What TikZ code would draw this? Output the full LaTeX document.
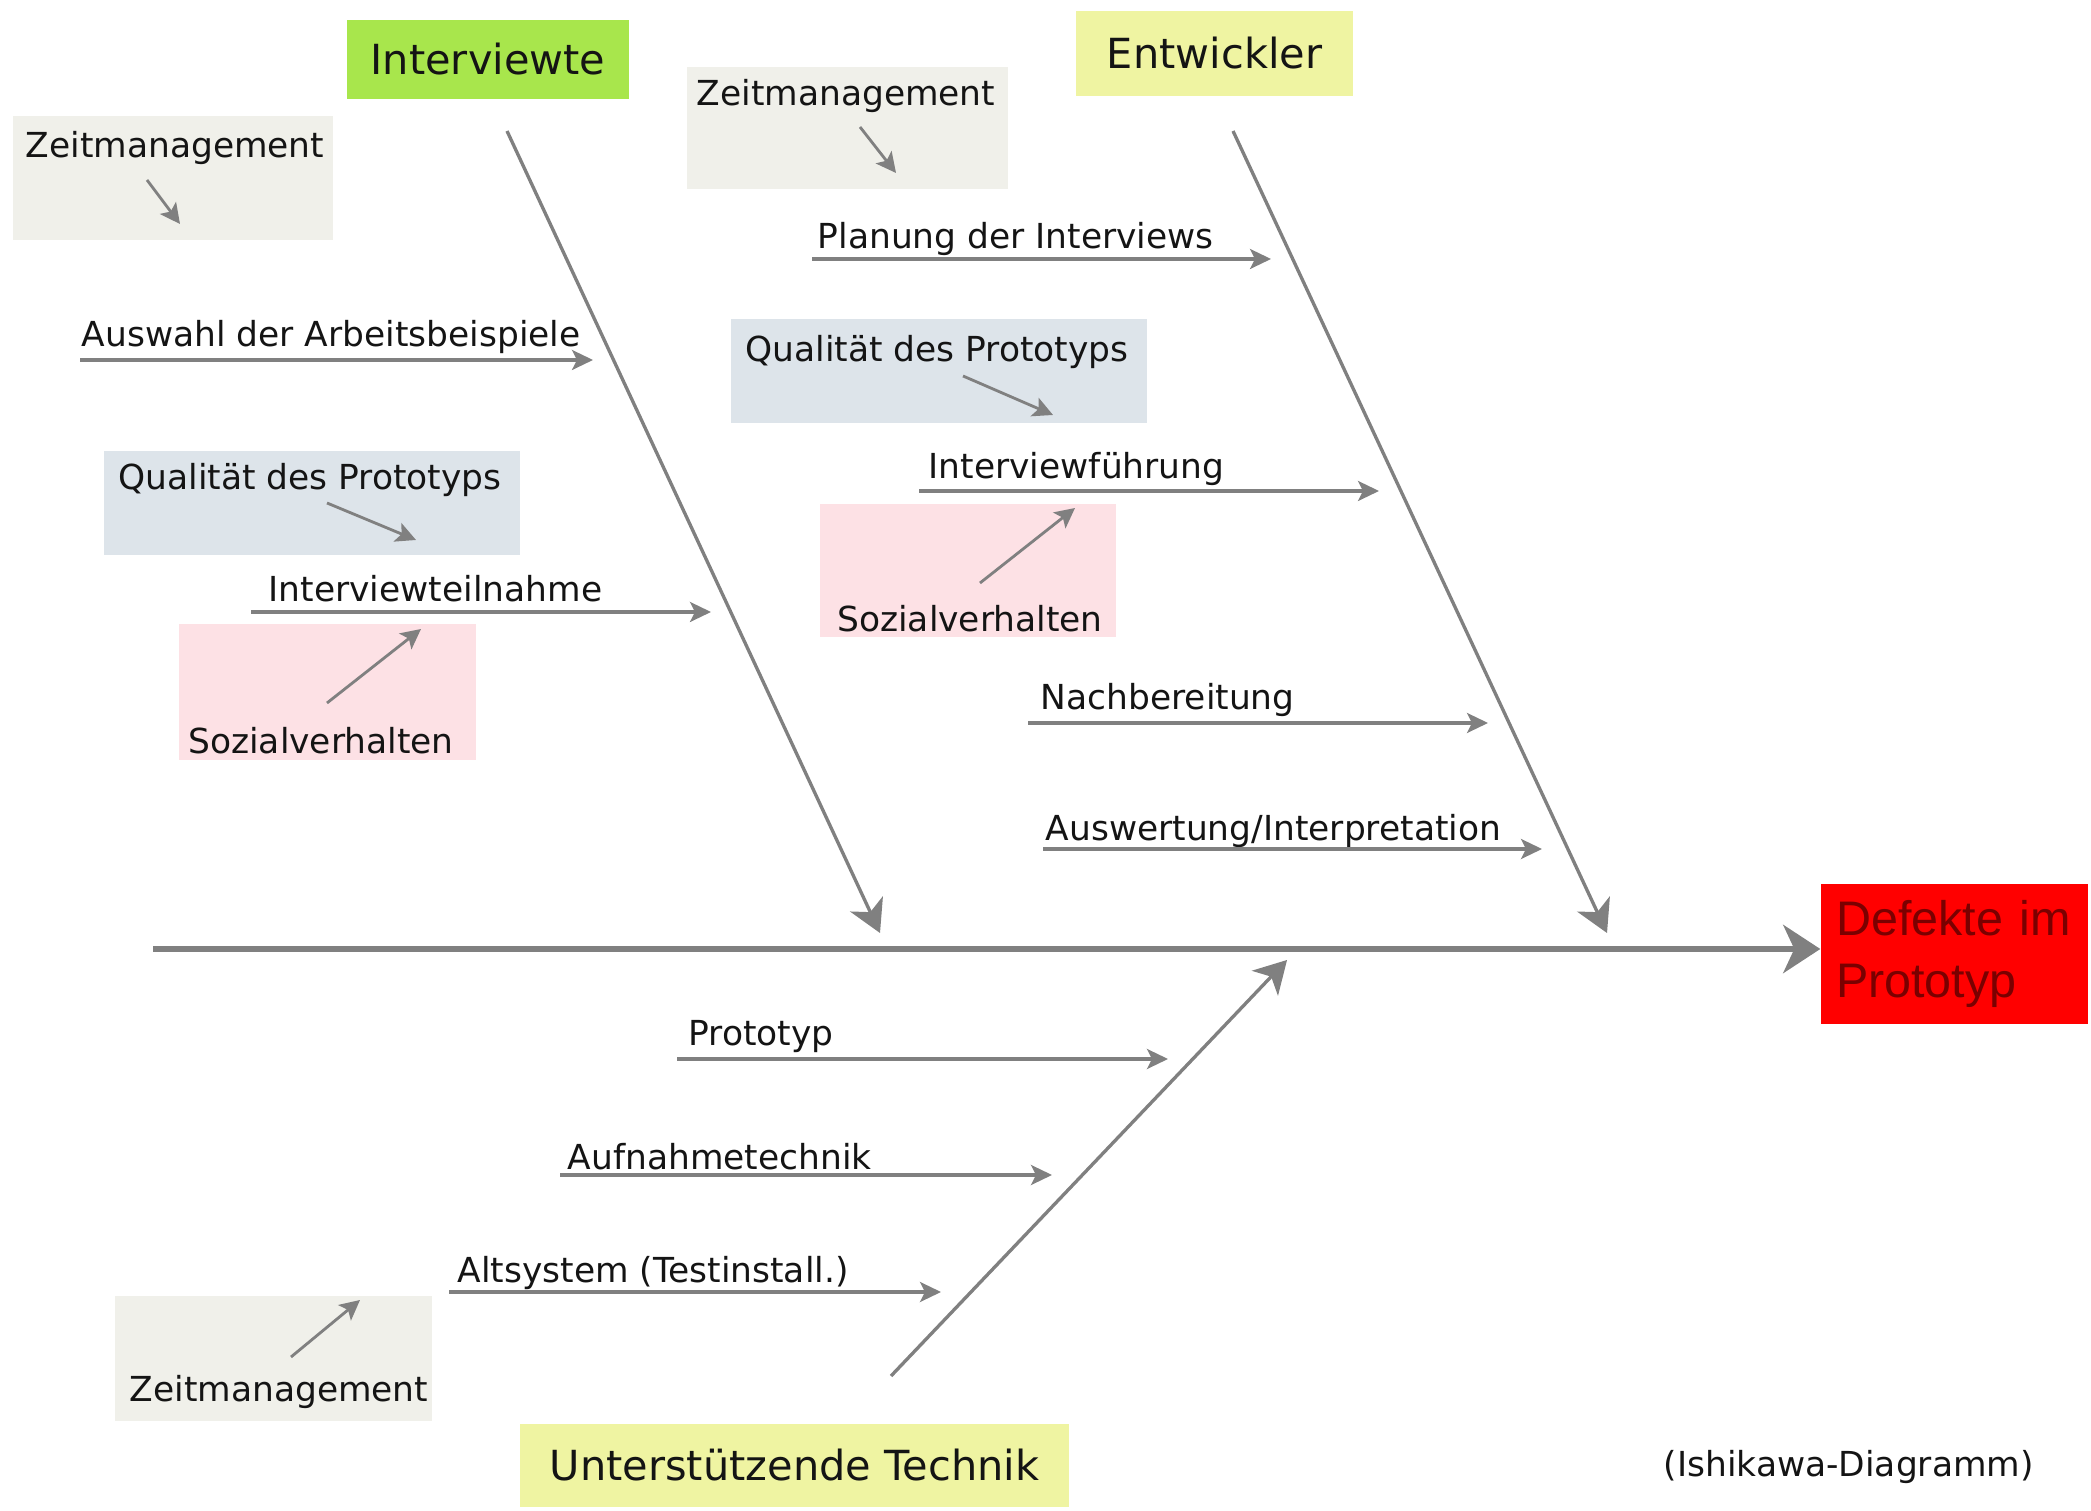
\documentclass[tikz,border=0pt]{standalone}
\usepackage{fontspec}
\setmainfont{DejaVu Sans}
\setsansfont{DejaVu Sans}
\newfontfamily\effectfont{Liberation Sans}
\usetikzlibrary{arrows.meta, positioning}
\definecolor{bonegray}{HTML}{808080}
\definecolor{txt}{HTML}{141414}
\definecolor{cgreen}{HTML}{A8E64C}
\definecolor{cyellow}{HTML}{EFF4A2}
\definecolor{czeit}{HTML}{F0F0EA}
\definecolor{cquali}{HTML}{DDE4EA}
\definecolor{csozial}{HTML}{FDE1E5}
\definecolor{cred}{HTML}{FF0000}
\definecolor{cdarkred}{HTML}{7A0000}

\begin{document}
\begin{tikzpicture}[
    every node/.style={font=\fontsize{9.8}{11.5}\selectfont, text=txt, inner sep=0pt},
    spine/.style={-{Stealth[length=3.7mm, width=4.8mm, inset=1.1mm]}, line width=1.9pt, color=bonegray},
    rib/.style={-{Stealth[length=3.2mm, width=3.6mm, inset=0.9mm]}, line width=0.95pt, color=bonegray},
    cause/.style={-{Stealth[length=2.1mm, width=2.0mm, inset=0.5mm]}, line width=0.9pt, color=bonegray},
    hint/.style={-{Stealth[length=2.0mm, width=2.0mm, inset=0.45mm]}, line width=0.8pt, color=bonegray},
    head/.style={rectangle, font=\fontsize{11.8}{14}\selectfont},
    patch/.style={rectangle},
]

\useasboundingbox (0,0) rectangle (20.91,15.10);

% ============================================================ the effect
\node[rectangle, fill=cred, minimum width=2.67cm, minimum height=1.40cm,
    inner xsep=0.15cm, text width=2.37cm, align=left, text=cdarkred,
    font=\effectfont\fontsize{13.8}{17.9}\selectfont] (defekt) at (19.545, 5.56)
    {Defekte im\\Prototyp};

\coordinate (tail) at (1.53, 5.61);
\draw[spine] (tail) -- (tail -| defekt.west);

% ============================================================ the headings
\node[head, fill=cgreen, minimum width=2.82cm, minimum height=0.79cm] (interviewte) at (4.88, 14.505) {Interviewte};
\node[head, fill=cyellow, minimum width=2.77cm, minimum height=0.85cm] (entwickler) at (12.145, 14.565) {Entwickler};
\node[head, fill=cyellow, minimum width=5.49cm, minimum height=0.83cm] (technik) at (7.945, 0.445) {Unterstützende Technik};

% ============================================================ the coloured patches
\node[patch, fill=czeit, minimum width=3.20cm, minimum height=1.24cm] (zeitA) at (1.73, 13.32) {};
\node[patch, fill=czeit, minimum width=3.21cm, minimum height=1.22cm] (zeitB) at (8.475, 13.82) {};
\node[patch, fill=czeit, minimum width=3.17cm, minimum height=1.25cm] (zeitC) at (2.735, 1.515) {};
\node[patch, fill=cquali, minimum width=4.16cm, minimum height=1.04cm] (qualiA) at (3.12, 10.07) {};
\node[patch, fill=cquali, minimum width=4.16cm, minimum height=1.04cm] (qualiB) at (9.39, 11.39) {};
\node[patch, fill=csozial, minimum width=2.97cm, minimum height=1.36cm] (sozialA) at (3.275, 8.18) {};
\node[patch, fill=csozial, minimum width=2.96cm, minimum height=1.33cm] (sozialB) at (9.68, 9.395) {};

\node (zeitAt) at (1.75, 13.62) {Zeitmanagement};
\node (zeitBt) at (8.46, 14.14) {Zeitmanagement};
\node (zeitCt) at (2.79, 1.18) {Zeitmanagement};
\node (qualiAt) at (3.10, 10.30) {Qualität des Prototyps};
\node (qualiBt) at (9.37, 11.58) {Qualität des Prototyps};
\node (sozialAt) at (3.21, 7.69) {Sozialverhalten};
\node (sozialBt) at (9.70, 8.91) {Sozialverhalten};

% little arrows inside the patches
\coordinate (zA1) at (1.47, 13.30); \coordinate (zA2) at (1.80, 12.86);
\coordinate (zB1) at (8.60, 13.83); \coordinate (zB2) at (8.96, 13.37);
\coordinate (zC1) at (2.91, 1.53);  \coordinate (zC2) at (3.60, 2.10);
\coordinate (qA1) at (3.27, 10.07); \coordinate (qA2) at (4.16, 9.70);
\coordinate (qB1) at (9.63, 11.34); \coordinate (qB2) at (10.53, 10.95);
\coordinate (sA1) at (3.27, 8.07);  \coordinate (sA2) at (4.21, 8.81);
\coordinate (sB1) at (9.80, 9.27);  \coordinate (sB2) at (10.75, 10.02);
\draw[hint] (zA1) -- (zA2);
\draw[hint] (zB1) -- (zB2);
\draw[hint] (zC1) -- (zC2);
\draw[hint] (qA1) -- (qA2);
\draw[hint] (qB1) -- (qB2);
\draw[hint] (sA1) -- (sA2);
\draw[hint] (sB1) -- (sB2);

% ============================================================ the three bones
\coordinate (ribA) at (5.07, 13.79);  \coordinate (ribAend) at (8.80, 5.77);
\coordinate (ribB) at (12.33, 13.79); \coordinate (ribBend) at (16.07, 5.77);
\coordinate (ribC) at (8.91, 1.34);   \coordinate (ribCend) at (12.87, 5.50);
\draw[rib] (ribA) -- (ribAend);
\draw[rib] (ribB) -- (ribBend);
\draw[rib] (ribC) -- (ribCend);

% ============================================================ causes, Interviewte
\node[anchor=west] (auswahl) at (0.81, 11.73) {Auswahl der Arbeitsbeispiele};
\coordinate (auswahlS) at (0.80, 11.50); \coordinate (auswahlE) at (5.93, 11.50);
\draw[cause] (auswahlS) -- (auswahlE);

\node[anchor=west] (teilnahme) at (2.68, 9.21) {Interviewteilnahme};
\coordinate (teilnahmeS) at (2.51, 8.98); \coordinate (teilnahmeE) at (7.11, 8.98);
\draw[cause] (teilnahmeS) -- (teilnahmeE);

% ============================================================ causes, Entwickler
\node[anchor=west] (planung) at (8.17, 12.71) {Planung der Interviews};
\coordinate (planungS) at (8.12, 12.51); \coordinate (planungE) at (12.71, 12.51);
\draw[cause] (planungS) -- (planungE);

\node[anchor=west] (fuehrung) at (9.28, 10.41) {Interviewführung};
\coordinate (fuehrungS) at (9.19, 10.19); \coordinate (fuehrungE) at (13.79, 10.19);
\draw[cause] (fuehrungS) -- (fuehrungE);

\node[anchor=west] (nachber) at (10.40, 8.10) {Nachbereitung};
\coordinate (nachberS) at (10.28, 7.87); \coordinate (nachberE) at (14.88, 7.87);
\draw[cause] (nachberS) -- (nachberE);

\node[anchor=west] (auswertung) at (10.45, 6.79) {Auswertung/Interpretation};
\coordinate (auswertungS) at (10.43, 6.61); \coordinate (auswertungE) at (15.42, 6.61);
\draw[cause] (auswertungS) -- (auswertungE);

% ============================================================ causes, Technik
\node[anchor=west] (prototyp) at (6.88, 4.73) {Prototyp};
\coordinate (prototypS) at (6.77, 4.51); \coordinate (prototypE) at (11.68, 4.51);
\draw[cause] (prototypS) -- (prototypE);

\node[anchor=west] (aufnahme) at (5.67, 3.53) {Aufnahmetechnik};
\coordinate (aufnahmeS) at (5.60, 3.35); \coordinate (aufnahmeE) at (10.52, 3.35);
\draw[cause] (aufnahmeS) -- (aufnahmeE);

\node[anchor=west] (altsystem) at (4.57, 2.37) {Altsystem (Testinstall.)};
\coordinate (altsystemS) at (4.49, 2.18); \coordinate (altsystemE) at (9.41, 2.18);
\draw[cause] (altsystemS) -- (altsystemE);

% ============================================================ caption
\node[anchor=west] (caption) at (16.63, 0.43) {(Ishikawa-Diagramm)};

\end{tikzpicture}
\end{document}
